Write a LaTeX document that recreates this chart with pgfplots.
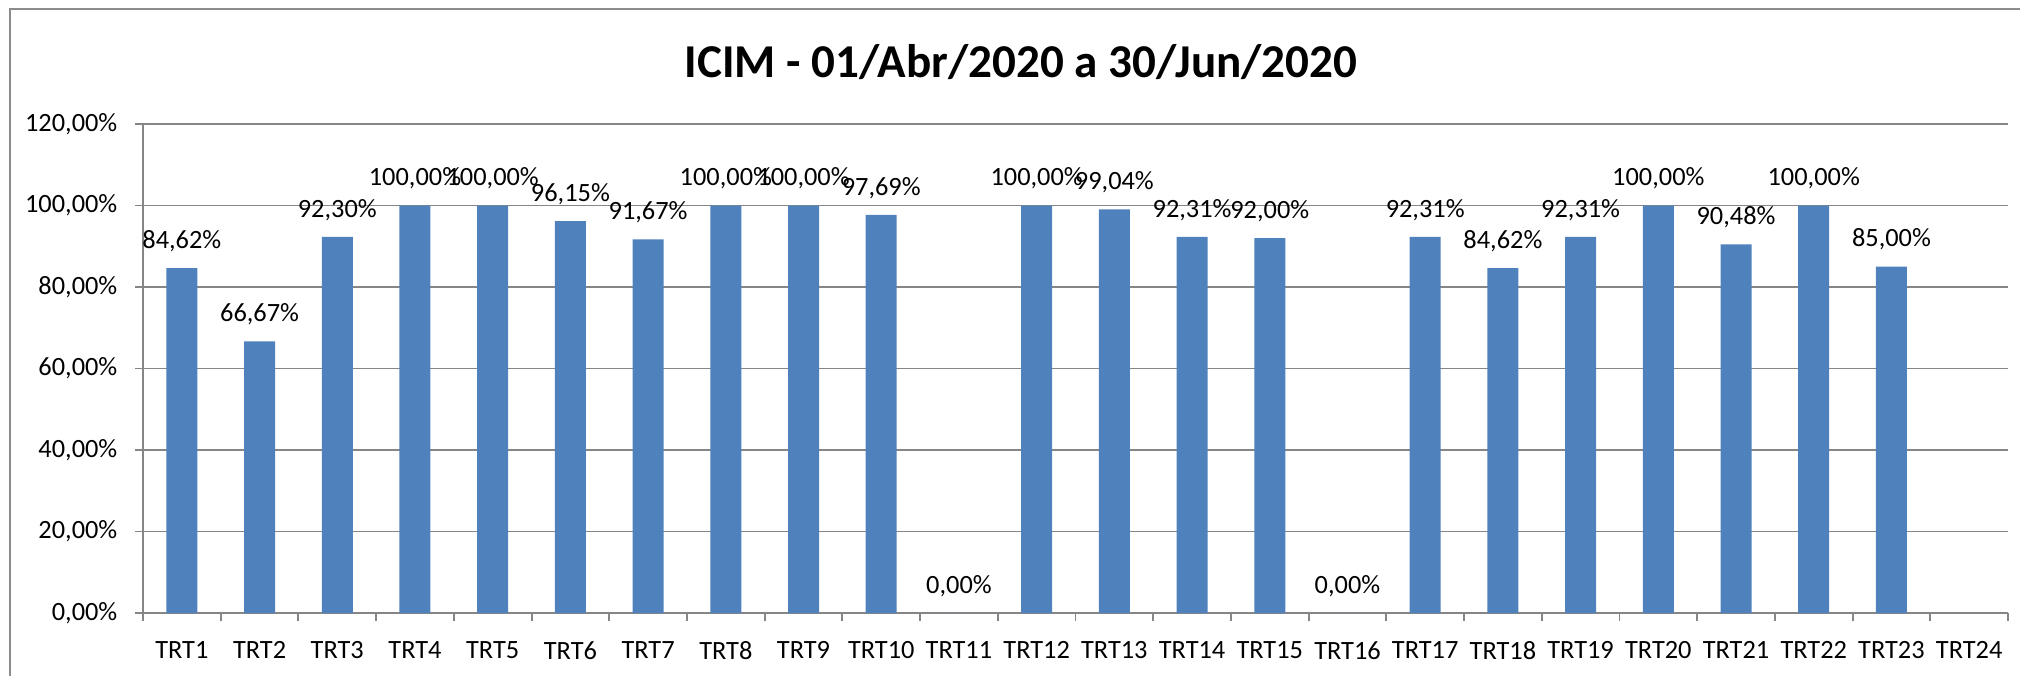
\documentclass[border=0pt]{standalone}
\usepackage{pgfplots}
\usepackage{pgfplotstable}
\pgfplotsset{compat=1.18}
\usepackage{fontspec}
\setmainfont{Carlito}
\definecolor{barblue}{HTML}{4F81BD}
\definecolor{gridgray}{HTML}{868686}
\definecolor{framegray}{HTML}{8C8C8C}

\pgfplotstableread{
x y lab
0 84.62 84,62
1 66.67 66,67
2 92.30 92,30
3 100.00 100,00
4 100.00 100,00
5 96.15 96,15
6 91.67 91,67
7 100.00 100,00
8 100.00 100,00
9 97.69 97,69
10 0.00 0,00
11 100.00 100,00
12 99.04 99,04
13 92.31 92,31
14 92.00 92,00
15 0.00 0,00
16 92.31 92,31
17 84.62 84,62
18 92.31 92,31
19 100.00 100,00
20 90.48 90,48
21 100.00 100,00
22 85.00 85,00
}\data

\begin{document}
\begin{tikzpicture}
\useasboundingbox (0,0) rectangle (202mm,67.5mm);
\draw[framegray, line width=0.5pt] (1.0mm,-5mm) -- (1.0mm,66.6mm) -- (210mm,66.6mm);
\node[font=\fontsize{13.4}{16}\selectfont\bfseries] at (102.1mm,61.3mm) {ICIM - 01/Abr/2020 a 30/Jun/2020};
\begin{axis}[
  at={(14.3mm,6.2mm)}, anchor=south west,
  scale only axis,
  width=186.5mm, height=48.9mm,
  xmin=-0.5, xmax=23.5,
  ymin=0, ymax=120,
  axis x line*=bottom, axis y line*=left,
  axis line style={gridgray, line width=0.55pt},
  ybar, bar width=3.1mm,
  ytick={0,20,...,120},
  yticklabels={{0,00\%},{20,00\%},{40,00\%},{60,00\%},{80,00\%},{100,00\%},{120,00\%}},
  xtick={0,...,23},
  xticklabels={TRT1,TRT2,TRT3,TRT4,TRT5,TRT6,TRT7,TRT8,TRT9,TRT10,TRT11,TRT12,TRT13,TRT14,TRT15,TRT16,TRT17,TRT18,TRT19,TRT20,TRT21,TRT22,TRT23,TRT24},
  minor xtick={-0.5,0.5,...,23.5},
  major x tick style={draw=none},
  minor x tick style={gridgray, line width=0.55pt},
  minor tick length=0.8mm,
  y tick style={gridgray, line width=0.55pt},
  major tick length=0.8mm,
  tick align=outside,
  ymajorgrids,
  grid style={gridgray, line width=0.55pt},
  tick label style={font=\fontsize{7.5}{9}\selectfont, text=black},
  yticklabel style={anchor=east, inner sep=0pt, xshift=-1.7mm},
  xticklabel style={anchor=north, inner sep=0pt, yshift=-2.0mm},
  point meta=explicit symbolic,
  nodes near coords={\pgfplotspointmeta\%},
  every node near coord/.append style={anchor=center, yshift=2.7mm, font=\fontsize{7.5}{9}\selectfont, text=black, inner sep=0pt},
]
\addplot[fill=barblue, draw=none] table[x=x, y=y, meta=lab] {\data};
\end{axis}
\end{tikzpicture}
\end{document}
